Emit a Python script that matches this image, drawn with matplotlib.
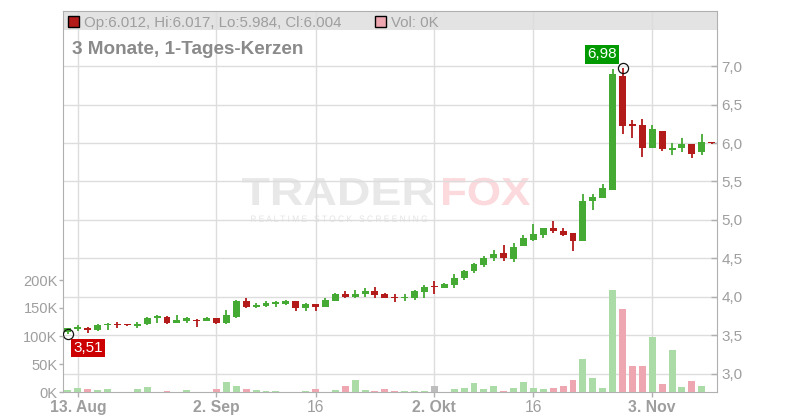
import matplotlib
matplotlib.use("Agg")
import matplotlib.pyplot as plt
import pandas as pd
from matplotlib.patches import Rectangle, PathPatch
from matplotlib.textpath import TextPath
from matplotlib.font_manager import FontProperties
from matplotlib.transforms import Affine2D

plt.rcParams["font.family"] = ["Liberation Sans", "DejaVu Sans"]

# daily candles, 12 Aug - 11 Nov 2025 (weekdays)
dates = pd.bdate_range("2025-08-12", periods=66)
opens = [3.54, 3.58, 3.60, 3.57, 3.63, 3.64, 3.64, 3.62, 3.64, 3.73,
         3.74, 3.66, 3.69, 3.70, 3.69, 3.72, 3.66, 3.74, 3.94, 3.87,
         3.88, 3.90, 3.91, 3.94, 3.85, 3.91, 3.87, 3.94, 4.04, 4.00,
         4.03, 4.08, 4.03, 4.00, 3.98, 3.98, 4.06, 4.145, 4.12, 4.15,
         4.24, 4.33, 4.41, 4.50, 4.57, 4.49, 4.66, 4.74, 4.80, 4.89,
         4.86, 4.83, 4.73, 5.24, 5.29, 5.39, 6.87, 6.245, 6.24, 5.93,
         6.16, 5.916, 5.93, 5.99, 5.89, 6.012]
highs = [3.60, 3.63, 3.61, 3.64, 3.66, 3.67, 3.65, 3.67, 3.74, 3.76,
         3.75, 3.76, 3.74, 3.71, 3.74, 3.72, 3.83, 3.96, 3.99, 3.92,
         3.95, 3.94, 3.96, 3.94, 3.92, 3.91, 3.98, 4.05, 4.08, 4.09,
         4.11, 4.13, 4.05, 4.03, 4.03, 4.09, 4.15, 4.20, 4.18, 4.30,
         4.35, 4.44, 4.53, 4.61, 4.67, 4.70, 4.81, 4.95, 4.90, 4.98,
         4.90, 4.83, 5.34, 5.34, 5.47, 6.96, 6.98, 6.30, 6.31, 6.24,
         6.16, 6.00, 6.07, 5.99, 6.12, 6.017]
lows = [3.51, 3.56, 3.53, 3.55, 3.57, 3.60, 3.62, 3.60, 3.63, 3.66,
        3.65, 3.66, 3.66, 3.61, 3.68, 3.65, 3.65, 3.73, 3.86, 3.86,
        3.87, 3.87, 3.89, 3.82, 3.81, 3.82, 3.87, 3.94, 3.99, 3.98,
        4.00, 3.99, 3.98, 3.93, 3.95, 3.96, 3.99, 4.03, 4.11, 4.11,
        4.22, 4.31, 4.39, 4.47, 4.47, 4.45, 4.66, 4.73, 4.76, 4.83,
        4.79, 4.60, 4.73, 5.13, 5.29, 5.39, 6.12, 6.07, 5.82, 5.93,
        5.90, 5.84, 5.89, 5.80, 5.85, 5.984]
closes = [3.59, 3.61, 3.57, 3.63, 3.64, 3.63, 3.63, 3.65, 3.73, 3.75,
          3.66, 3.70, 3.72, 3.69, 3.72, 3.66, 3.76, 3.94, 3.87, 3.89,
          3.92, 3.93, 3.94, 3.85, 3.90, 3.87, 3.96, 4.04, 4.00, 4.04,
          4.08, 4.02, 3.99, 3.98, 3.99, 4.08, 4.13, 4.124, 4.17, 4.25,
          4.33, 4.42, 4.51, 4.56, 4.50, 4.65, 4.76, 4.82, 4.89, 4.85,
          4.81, 4.73, 5.25, 5.30, 5.41, 6.90, 6.22, 6.223, 5.93, 6.18,
          5.92, 5.942, 5.99, 5.86, 6.015, 6.004]
volumes_k = [3.6, 7, 5, 3.6, 5, 0, 0, 5, 9, 0,
             2, 0, 3.6, 0, 0, 5, 18, 10.7, 5, 3.6,
             1.8, 1.8, 0, 0, 1.8, 5, 0, 3.6, 10.7, 21.4,
             3.6, 1.8, 5, 1.8, 1.8, 1.8, 1.8, 10.7, 0, 5,
             7, 16, 5, 10.7, 1.8, 7, 18, 7, 5, 7,
             10.7, 21.4, 59, 25, 7, 182, 148, 46, 46, 98,
             14, 75, 9, 20, 11, 0]
flat_volume_days = ["2025-10-02"]

tick_dates = ["2025-08-13", "2025-09-02", "2025-09-16", "2025-10-02", "2025-10-16", "2025-11-03"]
tick_labels = ["13. Aug", "2. Sep", "16", "2. Okt", "16", "3. Nov"]
month_labels = ["13. Aug", "2. Sep", "2. Okt", "3. Nov"]

price_ticks = [3.0, 3.5, 4.0, 4.5, 5.0, 5.5, 6.0, 6.5, 7.0]
volume_ticks_k = [0, 50, 100, 150, 200]

title = "3 Monate, 1-Tages-Kerzen"
legend_ohlc = "Op:6.012, Hi:6.017, Lo:5.984, Cl:6.004"
legend_vol = "Vol: 0K"

UP, DOWN = "#44aa33", "#b31a1a"
VOL_UP, VOL_DOWN, VOL_FLAT = "#abdca8", "#eea7b0", "#bdbdbd"
GRID, AXIS, TXT = "#dddddd", "#b0b0b0", "#9e9e9e"

W, H = 800, 420
fig = plt.figure(figsize=(W / 100, H / 100), dpi=100)
ax = fig.add_axes([63 / W, 28 / H, 653.6 / W, 381 / H])
x = list(range(len(dates)))

ax.set_xlim(-0.5, len(dates) - 0.5)
ax.set_ylim(2.761, 7.718)
ax.set_axisbelow(True)
ax.grid(True, color=GRID, lw=1)

# header strip
ax.add_patch(Rectangle((0, 0.9501), 1, 0.0499, transform=ax.transAxes,
                       facecolor="#e3e3e3", edgecolor="none", zorder=0.3))

# watermark
def logo_text(s, x0, x1, ybot, cap, color, weight="bold"):
    tp = TextPath((0, 0), s, size=1, prop=FontProperties(family="Liberation Sans", weight=weight))
    ext = tp.get_extents()
    sx = (x1 - x0) / ext.width
    sy = cap / 0.716
    tr = (Affine2D().translate(-ext.x0, 0).scale(sx / W, sy / H)
          .translate(x0 / W, (H - ybot) / H) + fig.transFigure)
    ax.add_patch(PathPatch(tp, transform=tr, facecolor=color, edgecolor="none",
                           zorder=0.2, clip_on=False))

logo_text("TRADER", 242, 434, 205, 28, "#e8e8e8")
logo_text("FOX", 443, 530, 205, 28, "#fbd9dc")
logo_text("R E A L T I M E   S T O C K   S C R E E N I N G", 251, 427, 222, 6.7,
          "#e4e4e4", weight="normal")

# candles
for i in x:
    o, h, l, c = opens[i], highs[i], lows[i], closes[i]
    col = UP if c >= o else DOWN
    ax.vlines(i, l, h, color=col, lw=1.3, zorder=2)
    body = max(abs(c - o), 0.014)
    ax.bar(i, body, bottom=min(o, c), width=0.7, color=col, zorder=3)

# volume on a twin axis
axv = ax.twinx()
axv.set_ylim(0, 381 / 0.56)
flat_set = set(pd.to_datetime(flat_volume_days))
vcols = []
for i, d in enumerate(dates):
    if d in flat_set:
        vcols.append(VOL_FLAT)
    elif closes[i] >= opens[i]:
        vcols.append(VOL_UP)
    else:
        vcols.append(VOL_DOWN)
axv.bar(x, volumes_k, width=0.7, color=vcols, zorder=2)

# axes styling
ax.yaxis.tick_right()
axv.yaxis.tick_left()
ax.set_yticks(price_ticks, [f"{p:.1f}".replace(".", ",") for p in price_ticks])
axv.set_yticks(volume_ticks_k, [f"{v}K" for v in volume_ticks_k])
tick_pos = [dates.get_loc(pd.Timestamp(d)) for d in tick_dates]
ax.set_xticks(tick_pos, tick_labels)
for lab in ax.get_xticklabels():
    if lab.get_text() in month_labels:
        lab.set_fontweight("bold")

ax.tick_params(axis="x", length=3.5, width=1, color=AXIS, labelcolor=TXT,
               labelsize=11.3, pad=2.5)
ax.tick_params(axis="y", direction="in", length=4, width=1, color=AXIS,
               labelcolor=TXT, labelsize=11, pad=3.5)
axv.tick_params(axis="y", length=3, width=1, color=AXIS, labelcolor=TXT,
                labelsize=10.5, pad=0.8)
for sp in ax.spines.values():
    sp.set_color(AXIS)
for sp in axv.spines.values():
    sp.set_visible(False)

# high / low markers
hi_i = highs.index(max(highs))
lo_i = lows.index(min(lows))
for i, val, col, off in [(hi_i, highs[hi_i], "#009a00", (-14.5, 9.6)),
                         (lo_i, lows[lo_i], "#cc0000", (14.6, -9.8))]:
    ax.plot(i, val, "o", ms=7.3, mfc="none", mec="#111111", mew=0.9, zorder=5)
    ax.annotate(f"{val:.2f}".replace(".", ","), (i, val), xytext=off,
                textcoords="offset points", ha="center", va="center",
                fontsize=11, color="white", zorder=6,
                bbox=dict(boxstyle="square,pad=0.14", fc=col, ec="none"))

# header texts
fig.add_artist(Rectangle((68 / W, (H - 27) / H), 11 / W, 11 / H, transform=fig.transFigure,
                         facecolor=DOWN, edgecolor="black", lw=1))
fig.text(84 / W, (H - 27.3) / H, legend_ohlc, fontsize=10.8, color=TXT, va="baseline")
fig.add_artist(Rectangle((375 / W, (H - 27) / H), 11 / W, 11 / H, transform=fig.transFigure,
                         facecolor=VOL_DOWN, edgecolor="black", lw=1))
fig.text(391 / W, (H - 27.3) / H, legend_vol, fontsize=10.8, color=TXT, va="baseline")
fig.text(72 / W, (H - 54) / H, title, fontsize=13.6, fontweight="bold", color="#8a8a8a",
         va="baseline")

fig.savefig("out.png", dpi=100)
